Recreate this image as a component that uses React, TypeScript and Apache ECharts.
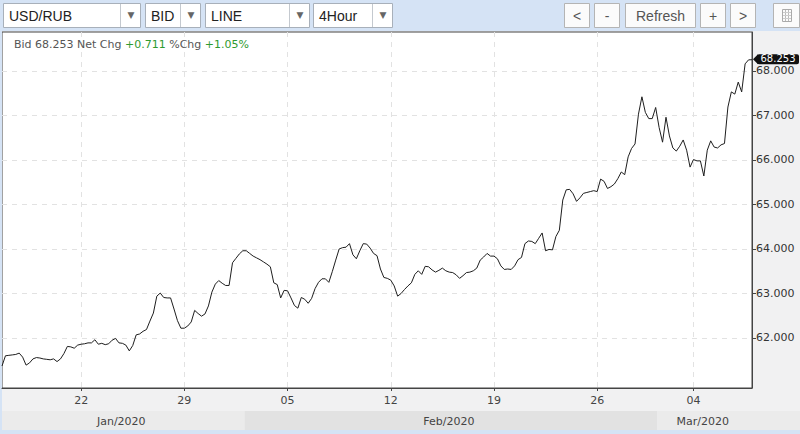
import React, { useEffect, useRef } from "react";
import * as echarts from "echarts";

// ---- data (4-hour bid closes, USD/RUB) ----
const values: number[] = [
  61.37, 61.6, 61.61, 61.62, 61.63, 61.66, 61.57, 61.39, 61.44, 61.53,
  61.56, 61.55, 61.53, 61.52, 61.51, 61.53, 61.47, 61.53, 61.65, 61.81,
  61.8, 61.77, 61.84, 61.86, 61.87, 61.89, 61.89, 61.96, 61.86, 61.88,
  61.85, 61.87, 61.95, 61.99, 61.89, 61.88, 61.84, 61.71, 61.83, 62.07,
  62.09, 62.15, 62.19, 62.38, 62.56, 62.94, 63.01, 62.91, 62.9, 62.9,
  62.65, 62.39, 62.22, 62.22, 62.27, 62.36, 62.62, 62.55, 62.49, 62.54,
  62.72, 63.03, 63.21, 63.29, 63.23, 63.18, 63.18, 63.69, 63.79, 63.89,
  63.96, 63.96, 63.9, 63.84, 63.8, 63.76, 63.71, 63.66, 63.6, 63.24,
  63.2, 62.9, 63.07, 63.06, 62.9, 62.73, 62.67, 62.91, 62.87, 62.78,
  62.89, 63.11, 63.25, 63.33, 63.33, 63.25, 63.49, 63.75, 64.0, 64.03,
  64.04, 64.12, 63.87, 63.78, 63.96, 64.12, 64.11, 64.02, 63.9, 63.85,
  63.55, 63.36, 63.34, 63.3, 63.17, 62.94, 63.0, 63.09, 63.17, 63.24,
  63.43, 63.51, 63.43, 63.61, 63.6, 63.53, 63.48, 63.52, 63.57, 63.51,
  63.48, 63.47, 63.42, 63.34, 63.4, 63.47, 63.48, 63.51, 63.57, 63.75,
  63.82, 63.9, 63.84, 63.84, 63.78, 63.62, 63.54, 63.55, 63.54, 63.62,
  63.76, 63.81, 64.12, 64.18, 64.17, 64.12, 64.24, 64.36, 63.96, 63.99,
  63.98, 64.28, 64.42, 65.1, 65.33, 65.34, 65.24, 65.07, 65.15, 65.25,
  65.27, 65.29, 65.31, 65.29, 65.57, 65.52, 65.36, 65.4, 65.46, 65.58,
  65.73, 65.67, 66.07, 66.26, 66.36, 67.03, 67.42, 67.07, 66.93, 66.93,
  67.18, 66.73, 66.4, 66.96, 66.54, 66.27, 66.2, 66.31, 66.45, 66.22,
  65.84, 66.01, 65.98, 65.98, 65.64, 66.22, 66.43, 66.29, 66.27, 66.34,
  66.37, 67.19, 67.53, 67.48, 67.75, 67.53, 68.16, 68.25, 68.253,
];

const tickIndices: number[] = [23, 53, 83, 113, 143, 173, 201];
const tickLabels: string[] = ["22", "29", "05", "12", "19", "26", "04"];
const monthLabels: string[] = ["Jan/2020", "Feb/2020", "Mar/2020"];
const monthStartIndices: number[] = [0, 71, 191];
const yTicks: number[] = [62, 63, 64, 65, 66, 67, 68];
const yMin = 60.876;
const yMax = 68.876;

const instrument = "USD/RUB";
const priceType = "BID";
const chartKind = "LINE";
const period = "4Hour";
const lastBid = 68.253;
const netChg = 0.711;
const pctChg = 1.05;
const navButtons: string[] = ["<", "-", "Refresh", "+", ">"];

// trading 4-hour slots (weekends skipped), starting Thu 16 Jan 2020 04:00
function buildCategories(n: number): string[] {
  const out: string[] = [];
  let t = Date.UTC(2020, 0, 16, 4);
  while (out.length < n) {
    const d = new Date(t);
    const wd = d.getUTCDay();
    if (wd !== 0 && wd !== 6) out.push(d.toISOString().slice(0, 16).replace("T", " "));
    t += 4 * 3600 * 1000;
  }
  return out;
}
const categories = buildCategories(values.length);

const FONT_UI = "Liberation Sans, Arial, sans-serif";
const FONT_CH = "DejaVu Sans, sans-serif";
const BLUE = "#d5e3f5";

function toolbarGraphics(): any[] {
  const els: any[] = [];
  els.push({ type: "rect", shape: { x: 0, y: 0, width: 800, height: 31 }, style: { fill: BLUE }, silent: true });
  els.push({ type: "rect", shape: { x: 0, y: 31, width: 2, height: 403 }, style: { fill: BLUE }, silent: true });
  els.push({ type: "rect", shape: { x: 0, y: 430, width: 800, height: 4 }, style: { fill: BLUE }, silent: true });

  const dropdowns = [
    { label: instrument, x: 3, w: 137 },
    { label: priceType, x: 145, w: 55 },
    { label: chartKind, x: 205, w: 104 },
    { label: period, x: 313, w: 79 },
  ];
  dropdowns.forEach((d) => {
    els.push({
      type: "rect",
      shape: { x: d.x + 0.5, y: 3.5, width: d.w, height: 24 },
      style: { fill: "#ffffff", stroke: "#a8b0ba", lineWidth: 1 },
      silent: true,
    });
    els.push({
      type: "line",
      shape: { x1: d.x + d.w - 19.5, y1: 4, x2: d.x + d.w - 19.5, y2: 27 },
      style: { stroke: "#c4c9cf", lineWidth: 1 },
      silent: true,
    });
    els.push({
      type: "text",
      x: d.x + 6,
      y: 16,
      style: { text: d.label, fill: "#222", font: `14px ${FONT_UI}`, align: "left", verticalAlign: "middle", textAlign: "left", textVerticalAlign: "middle" },
      silent: true,
    });
    els.push({
      type: "text",
      x: d.x + d.w - 9,
      y: 15,
      style: { text: "▼", fill: "#666", font: `9px ${FONT_CH}`, align: "center", verticalAlign: "middle", textAlign: "center", textVerticalAlign: "middle" },
      silent: true,
    });
  });

  const btnX = [564, 594, 625, 700, 730];
  const btnW = [25, 25, 70, 25, 25];
  navButtons.forEach((b, i) => {
    els.push({
      type: "rect",
      shape: { x: btnX[i] + 0.5, y: 3.5, width: btnW[i], height: 24 },
      style: { fill: "#fbfbfb", stroke: "#b4b4b4", lineWidth: 1 },
      silent: true,
    });
    els.push({
      type: "text",
      x: btnX[i] + btnW[i] / 2 + 0.5,
      y: 16,
      style: { text: b, fill: "#555", font: `14px ${FONT_UI}`, align: "center", verticalAlign: "middle", textAlign: "center", textVerticalAlign: "middle" },
      silent: true,
    });
  });
  // settings icon button
  els.push({
    type: "rect",
    shape: { x: 773.5, y: 3.5, width: 26, height: 24 },
    style: { fill: "#fbfbfb", stroke: "#b4b4b4", lineWidth: 1 },
    silent: true,
  });
  els.push({
    type: "rect",
    shape: { x: 782.5, y: 9.5, width: 9, height: 12 },
    style: { fill: "none", stroke: "#aaa", lineWidth: 1 },
    silent: true,
  });
  [785.5, 788.5].forEach((lx) =>
    els.push({ type: "line", shape: { x1: lx, y1: 10, x2: lx, y2: 21 }, style: { stroke: "#bbb", lineWidth: 1 }, silent: true })
  );
  [12.5, 15.5, 18.5].forEach((ly) =>
    els.push({ type: "line", shape: { x1: 783, y1: ly, x2: 791, y2: ly }, style: { stroke: "#ccc", lineWidth: 1 }, silent: true })
  );
  return els;
}

export default function App() {
  const ref = useRef<HTMLDivElement>(null);

  useEffect(() => {
    if (!ref.current) return;
    const chart = echarts.init(ref.current, undefined, { renderer: "svg" });

    const isTick = (i: number) => tickIndices.indexOf(i) >= 0;

    chart.setOption({
      animation: false,
      backgroundColor: "#f1f1f2",
      grid: {
        left: 2,
        right: 48,
        top: 32,
        bottom: 46,
        show: true,
        backgroundColor: "#ffffff",
        borderColor: "#444",
        borderWidth: 1,
      },
      xAxis: {
        type: "category",
        data: categories,
        boundaryGap: false,
        axisLine: { show: true, lineStyle: { color: "#444", width: 1 } },
        axisTick: { show: true, interval: (i: number) => isTick(i), length: 3, lineStyle: { color: "#444" } },
        axisLabel: {
          interval: (i: number) => isTick(i),
          formatter: (_v: string, i: number) => tickLabels[tickIndices.indexOf(i)] ?? "",
          color: "#444",
          fontFamily: FONT_CH,
          fontSize: 11,
          margin: 7,
        },
        splitLine: { show: true, interval: (i: number) => isTick(i), lineStyle: { color: "#e2e2e2", type: [5, 5] } },
      },
      yAxis: {
        type: "value",
        position: "right",
        min: yMin,
        max: yMax,
        axisLine: { show: true, lineStyle: { color: "#444", width: 1 } },
        axisTick: { show: true, length: 4, inside: false, lineStyle: { color: "#444" }, customValues: yTicks },
        axisLabel: {
          customValues: yTicks,
          formatter: (v: number) => v.toFixed(3),
          color: "#333",
          fontFamily: FONT_CH,
          fontSize: 11,
          margin: 4,
        },
        splitLine: { show: true, lineStyle: { color: "#e2e2e2", type: [5, 5] } },
      },
      series: [
        {
          type: "line",
          data: values,
          showSymbol: false,
          symbol: "none",
          silent: true,
          lineStyle: { color: "#1e1e1e", width: 1 },
        },
      ],
    });

    // derived decorations
    const px = (i: number) => (chart.convertToPixel({ xAxisIndex: 0 }, i) as unknown) as number;
    const last = chart.convertToPixel({ seriesIndex: 0 }, [values.length - 1, lastBid]) as number[];
    const plotRight = px(values.length - 1);
    const plotLeft = 2;

    const bounds: number[] = monthStartIndices.map((mi, k) =>
      k === 0 ? plotLeft : (px(mi - 1) + px(mi)) / 2
    );
    const els: any[] = toolbarGraphics();

    monthLabels.forEach((m, k) => {
      const x0 = bounds[k];
      const x1 = k + 1 < bounds.length ? bounds[k + 1] : 800;
      const labelEnd = k + 1 < bounds.length ? bounds[k + 1] : plotRight;
      els.push({
        type: "rect",
        shape: { x: x0, y: 411, width: x1 - x0, height: 19 },
        style: { fill: k % 2 === 0 ? "#ebebeb" : "#e2e2e2" },
        silent: true,
      });
      els.push({
        type: "text",
        x: (x0 + labelEnd) / 2 - 2,
        y: 421,
        style: { text: m, fill: "#444", font: `11px ${FONT_CH}`, align: "center", verticalAlign: "middle", textAlign: "center", textVerticalAlign: "middle" },
        silent: true,
      });
    });

    // header line
    const sign = (n: number) => (n >= 0 ? "+" : "-");
    els.push({
      type: "text",
      x: 14,
      y: 44,
      style: {
        text:
          `{g|Bid ${lastBid.toFixed(3)} Net Chg }{p|${sign(netChg)}${Math.abs(netChg).toFixed(3)}}` +
          `{g| %Chg }{p|${sign(pctChg)}${Math.abs(pctChg).toFixed(2)}%}`,
        font: `11px ${FONT_CH}`,
        verticalAlign: "middle",
        textVerticalAlign: "middle",
        rich: {
          g: { fill: "#555", color: "#555", fontFamily: FONT_CH, fontSize: 11 },
          p: { fill: "#2f9a2f", color: "#2f9a2f", fontFamily: FONT_CH, fontSize: 11 },
        },
      },
      silent: true,
    });

    // last value tag
    const ty = last[1] - 0.5;
    els.push({
      type: "polygon",
      shape: { points: [[plotRight + 1, ty], [plotRight + 6, ty - 5], [plotRight + 6, ty + 5]] },
      style: { fill: "#111" },
      silent: true,
    });
    els.push({
      type: "rect",
      shape: { x: plotRight + 5, y: ty - 5, width: 42, height: 10, r: 2 },
      style: { fill: "#111" },
      silent: true,
    });
    els.push({
      type: "text",
      x: plotRight + 26,
      y: ty - 0.5,
      style: { text: lastBid.toFixed(3), fill: "#fff", font: `10px ${FONT_CH}`, align: "center", verticalAlign: "middle", textAlign: "center", textVerticalAlign: "middle" },
      silent: true,
    });

    chart.setOption({ graphic: { elements: els } });

    return () => chart.dispose();
  }, []);

  return (
    <div
      ref={ref}
      style={{ position: "absolute", left: 0, top: 0, width: 800, height: 434 }}
    />
  );
}
